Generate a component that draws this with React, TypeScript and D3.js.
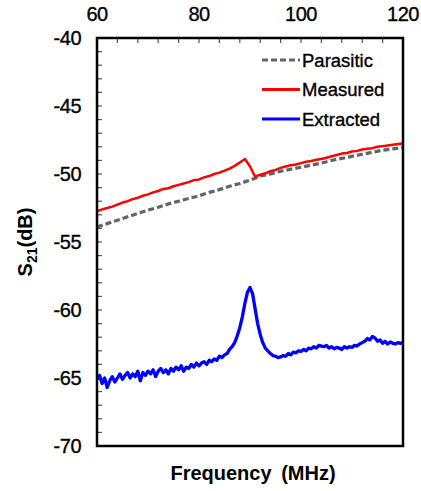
import * as d3 from 'd3'

const xTicks = [60, 80, 100, 120]
const yTicks = [-40, -45, -50, -55, -60, -65, -70]

const parasiticFreq = [60, 62, 64, 66, 68, 70, 72, 74, 76, 78, 80, 82, 84, 86, 88, 90, 92, 94, 96, 98, 100, 102, 104, 106, 108, 110, 112, 114, 116, 118, 120]
const parasiticDb = [-53.9, -53.65, -53.4, -53.15, -52.9, -52.65, -52.45, -52.2, -52.0, -51.8, -51.6, -51.35, -51.15, -50.9, -50.7, -50.45, -50.15, -50.0, -49.8, -49.65, -49.5, -49.35, -49.2, -49.0, -48.85, -48.7, -48.55, -48.4, -48.25, -48.15, -48.05]

// sampled every 1 MHz from 60
const measuredStart = 60, measuredStep = 1
const measuredDb = [
  -52.75, -52.6, -52.5, -52.4, -52.25, -52.1, -52.0, -51.85, -51.75, -51.6,
  -51.5, -51.35, -51.25, -51.1, -51.05, -50.9, -50.8, -50.7, -50.6, -50.45,
  -50.4, -50.25, -50.15, -50.0, -49.9, -49.75, -49.6, -49.4, -49.15, -48.9,
  -49.45, -50.2, -50.05, -49.95, -49.8, -49.7, -49.55, -49.45, -49.35, -49.3,
  -49.2, -49.1, -49.05, -48.95, -48.9, -48.8, -48.7, -48.6, -48.5, -48.45,
  -48.35, -48.3, -48.2, -48.15, -48.1, -48.0, -47.95, -47.9, -47.85, -47.8,
  -47.75,
]

// sampled every 0.5 MHz from 60
const extractedStart = 60, extractedStep = 0.5
const extractedDb = [
  -65.1, -64.8, -65.4, -65.0, -65.7, -65.2, -64.9, -65.3, -65.0, -64.7,
  -65.1, -64.8, -64.6, -65.0, -64.7, -64.9, -64.5, -65.2, -64.6, -64.8,
  -64.5, -64.7, -64.4, -64.9, -64.5, -64.3, -64.6, -64.4, -64.7, -64.3,
  -64.5, -64.2, -64.4, -64.1, -64.5, -64.2, -64.3, -64.0, -64.2, -63.9,
  -64.1, -63.9, -63.8, -64.0, -63.7, -63.8, -63.6, -63.7, -63.4, -63.5,
  -63.3, -63.2, -62.9, -62.7, -62.4, -61.9, -61.3, -60.5, -59.5, -58.7,
  -58.35, -58.8, -59.9, -61.0, -61.8, -62.4, -62.8, -63.0, -63.2, -63.35,
  -63.4, -63.5, -63.45, -63.35, -63.4, -63.2, -63.3, -63.1, -63.15, -63.0,
  -63.05, -62.9, -63.0, -62.8, -62.85, -62.7, -62.8, -62.6, -62.65, -62.7,
  -62.6, -62.8, -62.7, -62.85, -62.75, -62.8, -62.9, -62.7, -62.8, -62.7,
  -62.75, -62.6, -62.65, -62.5, -62.4, -62.3, -62.1, -62.2, -61.95, -62.05,
  -62.3, -62.2, -62.45, -62.3, -62.5, -62.35, -62.45, -62.5, -62.4, -62.45,
  -62.4,
]

const legendItems = [
  { name: 'Parasitic', color: '#646464', dash: '6,3' },
  { name: 'Measured', color: '#ff0000', dash: null },
  { name: 'Extracted', color: '#0000ff', dash: null },
]

const W = 421, H = 491
const margin = { left: 97, right: 18, top: 38, bottom: 45 }
const font = "Arial, 'Liberation Sans', sans-serif"

export default function App() {
  const x = d3.scaleLinear().domain([60, 120]).range([margin.left, W - margin.right])
  const y = d3.scaleLinear().domain([-40, -70]).range([margin.top, H - margin.bottom])

  const line = d3.line<[number, number]>().x(d => x(d[0])).y(d => y(d[1]))

  const parasitic = parasiticFreq.map((f, i) => [f, parasiticDb[i]] as [number, number])
  const measured = measuredDb.map((v, i) => [measuredStart + i * measuredStep, v] as [number, number])
  const extracted = extractedDb.map((v, i) => [extractedStart + i * extractedStep, v] as [number, number])

  const xMinor = d3.range(60, 120.001, 4)
  const yMinor = d3.range(-40, -70.001, -1)
  const [x0, x1] = x.range(), [y0, y1] = y.range()

  return (
    <svg width={W} height={H} style={{ position: 'absolute', left: 0, top: 0, background: '#fff' }} fontFamily={font}>
      <defs>
        <clipPath id="plot"><rect x={x0} y={y0} width={x1 - x0} height={y1 - y0} /></clipPath>
      </defs>

      {/* inner ticks */}
      <g stroke="#555" strokeWidth={1.2}>
        {xMinor.map(t => <line key={'x' + t} x1={x(t)} x2={x(t)} y1={y0} y2={y0 + 5} />)}
        {yMinor.map(t => <line key={'y' + t} x1={x0} x2={x0 + 5} y1={y(t)} y2={y(t)} />)}
      </g>

      <g clipPath="url(#plot)" fill="none" strokeLinejoin="round">
        <path d={line(parasitic)!} stroke="#646464" strokeWidth={3.2} strokeDasharray="6,3" />
        <path d={line(measured)!} stroke="#ff0000" strokeWidth={2.5} />
        <path d={line(extracted)!} stroke="#0000ff" strokeWidth={3.3} />
      </g>

      <rect x={x0} y={y0} width={x1 - x0} height={y1 - y0} fill="none" stroke="#000" strokeWidth={2.5} />

      <g fontSize={20} fill="#000" stroke="#000" strokeWidth={0.35} letterSpacing={-0.5}>
        {xTicks.map(t => (
          <text key={t} x={x(t)} y={21} textAnchor="middle">{t}</text>
        ))}
        {yTicks.map(t => (
          <text key={t} x={81} y={y(t)} dy="0.35em" textAnchor="end">{t}</text>
        ))}
      </g>

      <text x={(x0 + x1) / 2 + 3} y={480} textAnchor="middle" fontSize={20} fontWeight="bold" wordSpacing={4}>
        Frequency (MHz)
      </text>
      <text transform={`translate(32,${(y0 + y1) / 2}) rotate(-90)`} textAnchor="middle" fontSize={20} fontWeight="bold">
        S<tspan fontSize={14} dy={5}>21</tspan><tspan dy={-5}>(dB)</tspan>
      </text>

      <g fontSize={18.5}>
        {legendItems.map((d, i) => {
          const ly = 60 + i * 29.5
          return (
            <g key={d.name}>
              <line x1={262} x2={300} y1={ly} y2={ly} stroke={d.color} strokeWidth={3} strokeDasharray={d.dash ?? undefined} />
              <text x={302} y={ly} dy="0.36em" stroke="#000" strokeWidth={0.35}>{d.name}</text>
            </g>
          )
        })}
      </g>
    </svg>
  )
}
